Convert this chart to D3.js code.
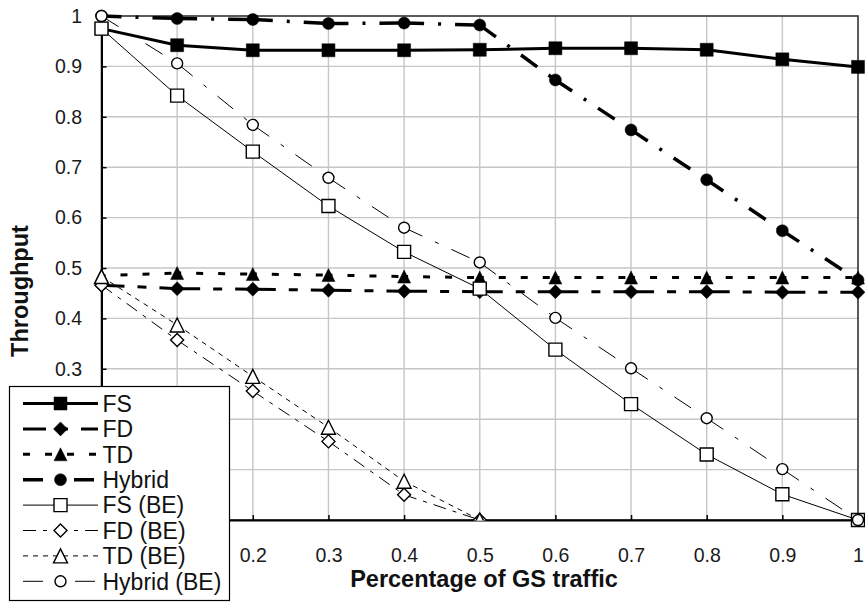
<!DOCTYPE html>
<html>
<head>
<meta charset="utf-8">
<script src="https://cdn.jsdelivr.net/npm/d3@7"></script>
<style>
  html, body { margin: 0; padding: 0; background: #fff; }
  svg { display: block; font-family: "Liberation Sans", Arial, sans-serif; }
</style>
</head>
<body>
<svg id="chart" width="865" height="602"></svg>
<script>
// ---- data -------------------------------------------------------------
const xValues      = [0, 0.1, 0.2, 0.3, 0.4, 0.5, 0.6, 0.7, 0.8, 0.9, 1];
const xValuesShort = [0, 0.1, 0.2, 0.3, 0.4, 0.5];

const fsValues       = [0.975, 0.942, 0.932, 0.932, 0.932, 0.933, 0.936, 0.936, 0.933, 0.914, 0.899];
const fdValues       = [0.466, 0.459, 0.458, 0.456, 0.454, 0.453, 0.453, 0.453, 0.453, 0.452, 0.452];
const tdValues       = [0.485, 0.490, 0.488, 0.486, 0.483, 0.481, 0.481, 0.481, 0.481, 0.481, 0.481];
const hybridValues   = [1.000, 0.995, 0.993, 0.985, 0.986, 0.982, 0.873, 0.774, 0.675, 0.574, 0.476];
const fsBeValues     = [0.975, 0.842, 0.731, 0.623, 0.532, 0.459, 0.338, 0.230, 0.130, 0.051, 0];
const fdBeValues     = [0.466, 0.357, 0.256, 0.156, 0.050, 0];
const tdBeValues     = [0.483, 0.387, 0.285, 0.184, 0.077, 0];
const hybridBeValues = [1.000, 0.906, 0.784, 0.679, 0.580, 0.511, 0.401, 0.301, 0.202, 0.101, 0];

const seriesNames = ["FS", "FD", "TD", "Hybrid", "FS (BE)", "FD (BE)", "TD (BE)", "Hybrid (BE)"];
const xTickValues = [0, 0.1, 0.2, 0.3, 0.4, 0.5, 0.6, 0.7, 0.8, 0.9, 1];
const yTickValues = [0, 0.1, 0.2, 0.3, 0.4, 0.5, 0.6, 0.7, 0.8, 0.9, 1];
const xTitle = "Percentage of GS traffic";
const yTitle = "Throughput";

// ---- series table (data + drawing style) ---------------------------------
const seriesStyle = [
  { width: 3,   dash: null,              marker: "square",   filled: true,  size: 13 },
  { width: 3,   dash: "23,13,9,13",      marker: "diamond",  filled: true,  size: 14 },
  { width: 3,   dash: "7,15", offset: 3, marker: "triangle", filled: true,  size: 13 },
  { width: 3.5, dash: "20,14,3,14",      marker: "circle",   filled: true,  size: 12 },
  { width: 1,   dash: null,              marker: "square",   filled: false, size: 13 },
  { width: 1,   dash: "13,7,4,7",        marker: "diamond",  filled: false, size: 13 },
  { width: 1,   dash: "5,5",             marker: "triangle", filled: false, size: 14 },
  { width: 1,   dash: "20,14,4,14",      marker: "circle",   filled: false, size: 11 }
];
const seriesValues = [fsValues, fdValues, tdValues, hybridValues,
                      fsBeValues, fdBeValues, tdBeValues, hybridBeValues];
const seriesX = [xValues, xValues, xValues, xValues,
                 xValues, xValuesShort, xValuesShort, xValues];

const series = seriesNames.map((name, i) => ({
  name,
  points: seriesValues[i].map((v, j) => ({ x: seriesX[i][j], y: v })),
  ...seriesStyle[i],
  clipBottom: i === 5 || i === 6
}));

// ---- layout ---------------------------------------------------------------
const svg = d3.select("#chart");
const plot = { left: 101.5, right: 858, top: 16, bottom: 520 };
const legendBox = { x: 9.5, y: 386.5, w: 220, h: 214 };

const x = d3.scaleLinear().domain([0, 1]).range([plot.left, plot.right]);
const y = d3.scaleLinear().domain([0, 1]).range([plot.bottom, plot.top]);

const fmt = d => String(+d.toFixed(1));

// grid
const grid = svg.append("g").attr("stroke", "#c6c6c6").attr("stroke-width", 1.4);
grid.selectAll("line.gx").data(xTickValues.slice(1, -1)).join("line")
  .attr("x1", d => x(d)).attr("x2", d => x(d))
  .attr("y1", plot.top).attr("y2", plot.bottom);
grid.selectAll("line.gy").data(yTickValues.slice(1, -1)).join("line")
  .attr("x1", plot.left).attr("x2", plot.right)
  .attr("y1", d => y(d)).attr("y2", d => y(d));

// plot frame
svg.append("rect")
  .attr("x", plot.left).attr("y", plot.top)
  .attr("width", plot.right - plot.left).attr("height", plot.bottom - plot.top)
  .attr("fill", "none").attr("stroke", "#333").attr("stroke-width", 1.6);

// axes (ticks point inward); labels that sit under the legend box are left blank
const xLabelHidden = d => x(d) < legendBox.x + legendBox.w;
const yLabelHidden = d => y(d) > legendBox.y - 8;

const yAxis = d3.axisLeft(y).tickValues(yTickValues)
  .tickFormat(d => yLabelHidden(d) ? "" : fmt(d))
  .tickSizeInner(-5).tickSizeOuter(0).tickPadding(19.5);
const xAxis = d3.axisBottom(x).tickValues(xTickValues)
  .tickFormat(d => xLabelHidden(d) ? "" : fmt(d))
  .tickSizeInner(-5).tickSizeOuter(0).tickPadding(28);

const gy = svg.append("g").attr("transform", `translate(${plot.left},0)`).call(yAxis);
const gx = svg.append("g").attr("transform", `translate(0,${plot.bottom})`).call(xAxis);
[gx, gy].forEach(g => {
  g.select(".domain").attr("stroke", "#000").attr("stroke-width", 2);
  g.selectAll(".tick line").attr("stroke", "#000").attr("stroke-width", 1.5);
  g.selectAll(".tick text").attr("fill", "#1a1a1a")
    .style("font-size", "19.5px").style("font-family", '"Liberation Sans", Arial, sans-serif');
});

// axis titles
svg.append("text")
  .attr("x", 484).attr("y", 587)
  .attr("text-anchor", "middle")
  .style("font-size", "23.5px").style("font-weight", "bold")
  .attr("fill", "#111")
  .text(xTitle);
svg.append("text")
  .attr("transform", "translate(28,291) rotate(-90)")
  .attr("text-anchor", "middle")
  .style("font-size", "23.5px").style("font-weight", "bold")
  .attr("fill", "#111")
  .text(yTitle);

// ---- markers --------------------------------------------------------------
function markerPath(type, s) {
  const h = s / 2;
  switch (type) {
    case "square":   return `M${-h},${-h}h${s}v${s}h${-s}Z`;
    case "diamond":  return `M0,${-h}L${h},0L0,${h}L${-h},0Z`;
    case "triangle": return `M0,${-h}L${h},${h}L${-h},${h}Z`;
    default:         return `M${-h},0A${h},${h} 0 1,0 ${h},0A${h},${h} 0 1,0 ${-h},0Z`;
  }
}

// clip used for the BE series that end on the x axis
svg.append("clipPath").attr("id", "clip-bottom")
  .append("rect").attr("x", 0).attr("y", 0).attr("width", 865).attr("height", plot.bottom + 0.5);

const line = d3.line().x(d => x(d.x)).y(d => y(d.y));

series.forEach(s => {
  const g = svg.append("g");
  if (s.clipBottom) g.attr("clip-path", "url(#clip-bottom)");
  // each segment restarts its dash pattern
  d3.pairs(s.points).forEach(seg => {
    g.append("path")
      .attr("d", line(seg))
      .attr("fill", "none")
      .attr("stroke", "#000")
      .attr("stroke-width", s.width)
      .attr("stroke-dasharray", s.dash)
      .attr("stroke-dashoffset", s.offset || 0);
  });
  g.selectAll("path.m").data(s.points).join("path")
    .attr("class", "m")
    .attr("transform", d => `translate(${x(d.x)},${y(d.y)})`)
    .attr("d", markerPath(s.marker, s.size))
    .attr("fill", s.filled ? "#000" : "#fff")
    .attr("stroke", "#000")
    .attr("stroke-width", s.filled ? 0.5 : 1.4);
});

// ---- legend ---------------------------------------------------------------
const legend = svg.append("g");
legend.append("rect")
  .attr("x", legendBox.x).attr("y", legendBox.y)
  .attr("width", legendBox.w).attr("height", legendBox.h)
  .attr("fill", "#fff").attr("stroke", "#000").attr("stroke-width", 1.2);

series.forEach((s, i) => {
  const cy = 403.5 + i * 25.4;
  const row = legend.append("g").attr("transform", `translate(0,${cy})`);
  row.append("line")
    .attr("x1", 23).attr("x2", 98).attr("y1", 0).attr("y2", 0)
    .attr("stroke", "#000").attr("stroke-width", s.width)
    .attr("stroke-dasharray", s.dash);
  row.append("path")
    .attr("transform", "translate(60.5,0)")
    .attr("d", markerPath(s.marker, s.size))
    .attr("fill", s.filled ? "#000" : "#fff")
    .attr("stroke", "#000")
    .attr("stroke-width", s.filled ? 0.5 : 1.4);
  row.append("text")
    .attr("x", 102.5).attr("y", 8.2)
    .style("font-size", "23px")
    .attr("fill", "#111")
    .text(s.name);
});
</script>
</body>
</html>
